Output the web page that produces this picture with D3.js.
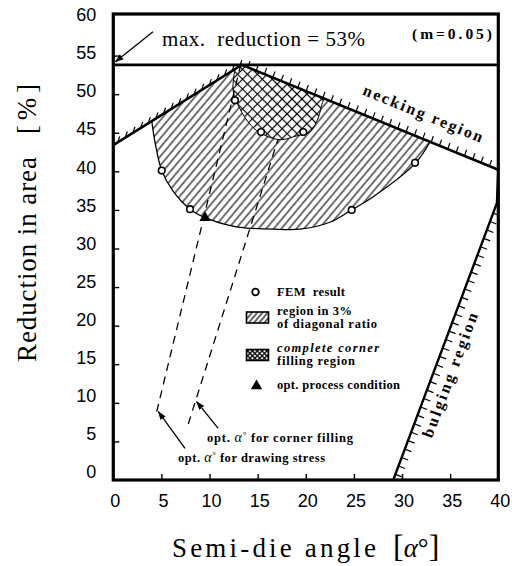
<!DOCTYPE html>
<html><head><meta charset="utf-8">
<script src="https://cdn.jsdelivr.net/npm/d3@7"></script>
<style>body{margin:0;background:#fff}svg{display:block}</style>
</head><body>
<svg id="chart" width="512" height="566"></svg>
<script>
// ---------- data ----------
const xTicks = [0, 5, 10, 15, 20, 25, 30, 35, 40];
const yTicks = [0, 5, 10, 15, 20, 25, 30, 35, 40, 45, 50, 55, 60];
const maxReduction = 53.8;
const neckingLine = [[0, 43.4], [13.34, 53.8], [40, 40.2]];
const bulgingLine = [[29.09, 0], [39.86, 35.9], [40, 40.2]];
const diagRegionArc = [[4.0, 46.5], [4.33, 43.8], [5.03, 40.1], [6.23, 37.4], [7.97, 35.1], [9.53, 34.0],
  [11.43, 33.2], [13.16, 32.75], [16.62, 32.5], [19.4, 32.5], [22.5, 33.4], [24.77, 35.0], [27.0, 36.7],
  [31.35, 41.0], [32.9, 43.8]];
const cornerRegionArc = [[12.64, 53.3], [12.44, 50.5], [12.82, 49.0], [14.0, 46.4], [15.24, 45.0],
  [17.33, 44.1], [19.05, 44.6], [20.44, 45.1], [21.28, 46.9], [21.68, 48.7], [21.9, 49.4]];
const femPoints = [[5.03, 40.1], [7.97, 35.1], [12.64, 49.2], [15.35, 45.1], [19.74, 45.1], [24.77, 35.0], [31.35, 41.1]];
const optPoints = [[9.53, 34.0]];
const optDrawingStress = [[4.51, 8.85], [13.16, 53.4]];
const optCornerFilling = [[7.79, 7.26], [17.1, 44.1]];
const arrowDrawing = [[7.45, 4.1], [4.68, 8.85]];
const arrowCorner = [[10.9, 6.7], [8.66, 10.15]];
const arrowMax = [[4.12, 58.1], [0.23, 54.2]];

// ---------- scales ----------
const svg = d3.select("#chart");
const x = d3.scaleLinear().domain([0, 40]).range([113.3, 498.3]);
const y = d3.scaleLinear().domain([0, 60]).range([480, 17]);
const yLabel = d3.scaleLinear().domain([0, 60]).range([471.7, 15]);
const P = d => [x(d[0]), y(d[1])];

// ---------- patterns ----------
const defs = svg.append("defs");
const hatch = defs.append("pattern").attr("id", "hatch").attr("patternUnits", "userSpaceOnUse")
  .attr("width", 5.8).attr("height", 10).attr("patternTransform", "rotate(40)");
hatch.append("line").attr("x1", 2.9).attr("x2", 2.9).attr("y1", 0).attr("y2", 10)
  .attr("stroke", "#000").attr("stroke-width", 1.1);
const cross = defs.append("pattern").attr("id", "cross").attr("patternUnits", "userSpaceOnUse")
  .attr("width", 7).attr("height", 7).attr("patternTransform", "rotate(45)");
cross.append("rect").attr("width", 7).attr("height", 7).attr("fill", "#fff");
cross.append("line").attr("x1", 3.5).attr("x2", 3.5).attr("y1", 0).attr("y2", 7).attr("stroke", "#000").attr("stroke-width", 1.2);
cross.append("line").attr("y1", 3.5).attr("y2", 3.5).attr("x1", 0).attr("x2", 7).attr("stroke", "#000").attr("stroke-width", 1.2);
const crossS = defs.append("pattern").attr("id", "crossS").attr("patternUnits", "userSpaceOnUse")
  .attr("width", 3.4).attr("height", 3.4).attr("patternTransform", "rotate(45)");
crossS.append("rect").attr("width", 3.4).attr("height", 3.4).attr("fill", "#fff");
crossS.append("line").attr("x1", 1.7).attr("x2", 1.7).attr("y1", 0).attr("y2", 3.4).attr("stroke", "#000").attr("stroke-width", 1.3);
crossS.append("line").attr("y1", 1.7).attr("y2", 1.7).attr("x1", 0).attr("x2", 3.4).attr("stroke", "#000").attr("stroke-width", 1.3);
const hatchS = defs.append("pattern").attr("id", "hatchS").attr("patternUnits", "userSpaceOnUse")
  .attr("width", 4).attr("height", 10).attr("patternTransform", "rotate(40)");
hatchS.append("line").attr("x1", 2).attr("x2", 2).attr("y1", 0).attr("y2", 10).attr("stroke", "#000").attr("stroke-width", 1.2);

defs.append("marker").attr("id", "arr").attr("viewBox", "0 0 10 10").attr("refX", 9).attr("refY", 5)
  .attr("markerWidth", 9).attr("markerHeight", 9).attr("markerUnits", "userSpaceOnUse").attr("orient", "auto")
  .append("path").attr("d", "M0,1.5 L10,5 L0,8.5 Z").attr("fill", "#000");

defs.append("clipPath").attr("id", "plotClip").append("rect")
  .attr("x", x(0)).attr("y", y(60) - 3).attr("width", x(40) - x(0)).attr("height", y(0) - y(60) + 3);

const plot = svg.append("g").attr("clip-path", "url(#plotClip)");

// ---------- regions ----------
const curve = d3.line().x(d => x(d[0])).y(d => y(d[1])).curve(d3.curveCatmullRom.alpha(0.5));
const peak = P(neckingLine[1]);
plot.append("path").attr("d", curve(diagRegionArc) + `L${peak[0]},${peak[1]}Z`)
  .attr("fill", "url(#hatch)").attr("stroke", "none");
plot.append("path").attr("d", curve(diagRegionArc)).attr("fill", "none").attr("stroke", "#000").attr("stroke-width", 1.3);
plot.append("path").attr("d", curve(cornerRegionArc) + `L${peak[0]},${peak[1]}Z`)
  .attr("fill", "url(#cross)").attr("stroke", "none");
plot.append("path").attr("d", curve(cornerRegionArc)).attr("fill", "none").attr("stroke", "#000").attr("stroke-width", 1);

// ---------- dashed optimal lines ----------
const straight = d3.line().x(d => x(d[0])).y(d => y(d[1]));
[optDrawingStress, optCornerFilling].forEach(l => {
  plot.append("path").attr("d", straight(l)).attr("fill", "none").attr("stroke", "#000")
    .attr("stroke-width", 1.3).attr("stroke-dasharray", "8,6");
});

// ---------- boundary lines with hatch ticks ----------
function alongTicks(pts, spacing, offset, len, dir, xmax) {
  const segs = []; let acc = 0, next = offset;
  for (let i = 0; i < pts.length - 1; i++) {
    const [x0, y0] = pts[i], [x1, y1] = pts[i + 1];
    const L = Math.hypot(x1 - x0, y1 - y0);
    while (next <= acc + L) {
      const t = (next - acc) / L;
      const px = x0 + t * (x1 - x0), py = y0 + t * (y1 - y0);
      if (px < xmax) segs.push([px, py, px + dir[0] * len, py + dir[1] * len]);
      next += spacing;
    }
    acc += L;
  }
  return segs;
}
const neckPx = neckingLine.map(P);
const a1 = 70 * Math.PI / 180;
plot.selectAll(".nt").data(alongTicks(neckPx, 9, 5, 6.5, [Math.cos(a1), -Math.sin(a1)], x(40) - 4)).join("line")
  .attr("x1", d => d[0]).attr("y1", d => d[1]).attr("x2", d => d[2]).attr("y2", d => d[3])
  .attr("stroke", "#000").attr("stroke-width", 1.2);
plot.append("path").attr("d", straight(neckingLine)).attr("fill", "none").attr("stroke", "#000").attr("stroke-width", 2.6);

const bulgPx = bulgingLine.map(P);
plot.selectAll(".bt").data(alongTicks(bulgPx, 9, 6, 7, [0.93, 0.36], x(40) - 4)).join("line")
  .attr("x1", d => d[0]).attr("y1", d => d[1]).attr("x2", d => d[2]).attr("y2", d => d[3])
  .attr("stroke", "#000").attr("stroke-width", 1.2);
plot.append("path").attr("d", straight(bulgingLine)).attr("fill", "none").attr("stroke", "#000").attr("stroke-width", 2.4);

// max reduction line
svg.append("line").attr("x1", x(0)).attr("x2", x(40)).attr("y1", y(maxReduction)).attr("y2", y(maxReduction))
  .attr("stroke", "#000").attr("stroke-width", 2.6);

// ---------- points ----------
plot.selectAll(".fem").data(femPoints).join("circle")
  .attr("cx", d => x(d[0])).attr("cy", d => y(d[1])).attr("r", 3.3)
  .attr("fill", "#fff").attr("stroke", "#000").attr("stroke-width", 1.6);
const tri = d3.symbol().type(d3.symbolTriangle).size(55);
plot.selectAll(".opt").data(optPoints).join("path")
  .attr("transform", d => `translate(${x(d[0])},${y(d[1])})`).attr("d", tri()).attr("fill", "#000");

// ---------- arrows ----------
[arrowDrawing, arrowCorner, arrowMax].forEach(a => {
  svg.append("path").attr("d", straight(a)).attr("fill", "none").attr("stroke", "#000")
    .attr("stroke-width", 1.3).attr("marker-end", "url(#arr)");
});

// ---------- frame & axes ----------
svg.append("rect").attr("x", x(0)).attr("y", y(60) - 3).attr("width", x(40) - x(0)).attr("height", y(0) - y(60) + 3)
  .attr("fill", "none").attr("stroke", "#000").attr("stroke-width", 3.2);

const xAxis = svg.append("g").attr("transform", `translate(0,${y(0)})`)
  .call(d3.axisBottom(x).tickValues(xTicks).tickSize(-6).tickPadding(14));
xAxis.select(".domain").remove();
xAxis.selectAll(".tick line").attr("stroke-width", 1.4).filter(d => d === 0 || d === 40).remove();
xAxis.selectAll("text").attr("font-family", "'Liberation Sans', Arial, sans-serif").attr("font-size", 18)
  .attr("fill", "#000").attr("dx", 1.5);

const yAxis = svg.append("g").attr("transform", `translate(${x(0)},0)`)
  .call(d3.axisLeft(y).tickValues(yTicks).tickSize(-6).tickPadding(17));
yAxis.select(".domain").remove();
yAxis.selectAll(".tick line").attr("stroke-width", 1.4).filter(d => d === 0 || d === 60).remove();
yAxis.selectAll("text").attr("font-family", "'Liberation Sans', Arial, sans-serif").attr("font-size", 18)
  .attr("fill", "#000").attr("y", d => yLabel(d) - y(d));

// ---------- titles ----------
const serif = "'Liberation Serif', 'Times New Roman', serif";
svg.append("text").attr("x", 172).attr("y", 557).attr("font-family", serif).attr("font-size", 27)
  .attr("textLength", 204).attr("lengthAdjust", "spacing").text("Semi-die angle");
const xt2 = svg.append("text").attr("x", 393).attr("y", 557).attr("font-family", serif).attr("font-size", 27);
xt2.append("tspan").attr("font-size", 32).attr("font-weight", 300).text("[");
xt2.append("tspan").attr("font-style", "italic").text("α");
xt2.append("tspan").text("°");
xt2.append("tspan").attr("font-size", 32).attr("font-weight", 300).text("]");

svg.append("text").attr("transform", "translate(36,362) rotate(-90)").attr("font-family", serif).attr("font-size", 27)
  .attr("textLength", 205).attr("lengthAdjust", "spacing").text("Reduction in area");
svg.append("text").attr("transform", "translate(36,134) rotate(-90)").attr("font-family", serif).attr("font-size", 27)
  .attr("textLength", 50).attr("lengthAdjust", "spacing").text("[%]");

// ---------- annotations ----------
svg.append("text").attr("x", 162).attr("y", 46).attr("font-family", serif).attr("font-size", 21)
  .attr("textLength", 203).attr("lengthAdjust", "spacing").style("white-space", "pre").text("max.  reduction = 53%");
svg.append("text").attr("x", 412).attr("y", 39).attr("font-family", serif).attr("font-size", 15.5).attr("font-weight", "bold")
  .attr("textLength", 80).attr("lengthAdjust", "spacing").text("(m=0.05)");

const nAng = Math.atan2(peak[1] - neckPx[2][1], peak[0] - neckPx[2][0]) * 180 / Math.PI + 180;
svg.append("text").attr("transform", `translate(421,118.5) rotate(${nAng})`).attr("text-anchor", "middle")
  .attr("font-family", serif).attr("font-size", 16).attr("font-weight", "bold")
  .attr("textLength", 128).attr("lengthAdjust", "spacing").text("necking region");
const bAng = Math.atan2(bulgPx[1][1] - bulgPx[0][1], bulgPx[1][0] - bulgPx[0][0]) * 180 / Math.PI;
svg.append("text").attr("transform", `translate(455,377) rotate(${bAng})`).attr("text-anchor", "middle")
  .attr("font-family", serif).attr("font-size", 16).attr("font-weight", "bold")
  .attr("textLength", 132).attr("lengthAdjust", "spacing").text("bulging region");

function annot(xp, yp, len, rest) {
  const t = svg.append("text").attr("x", xp).attr("y", yp).attr("font-family", serif).attr("font-size", 12.5)
    .attr("font-weight", "bold").attr("textLength", len).attr("lengthAdjust", "spacing");
  t.append("tspan").text("opt. ");
  t.append("tspan").attr("font-style", "italic").attr("font-weight", "normal").attr("font-size", 14).text("α");
  t.append("tspan").attr("font-size", 9).attr("dy", -4).text("°");
  t.append("tspan").attr("dy", 4).text(rest);
}
annot(207, 442, 146, " for corner  filling");
annot(178, 462, 147, " for drawing stress");

// ---------- legend ----------
const lg = svg.append("g").attr("font-family", serif).attr("font-size", 12.5).attr("font-weight", "bold");
lg.append("circle").attr("cx", 255.5).attr("cy", 292).attr("r", 3.3).attr("fill", "#fff").attr("stroke", "#000").attr("stroke-width", 1.8);
lg.append("rect").attr("x", 246.5).attr("y", 312).attr("width", 22).attr("height", 11).attr("fill", "url(#hatchS)")
  .attr("stroke", "#000").attr("stroke-width", 1.6);
lg.append("rect").attr("x", 246.5).attr("y", 349.5).attr("width", 22).attr("height", 11).attr("fill", "url(#crossS)")
  .attr("stroke", "#000").attr("stroke-width", 1.6);
lg.append("path").attr("transform", "translate(256.5,386)").attr("d", tri()).attr("fill", "#000");
const legendRows = [
  ["FEM  result", 296, 68, false],
  ["region in 3%", 315, 75, false],
  ["of diagonal ratio", 328, 100, false],
  ["complete corner", 352, 102, true],
  ["filling region", 365, 78, false],
  ["opt. process condition", 389, 123, false]
];
lg.selectAll(".lt").data(legendRows).join("text")
  .attr("x", 277).attr("y", d => d[1]).attr("textLength", d => d[2]).attr("lengthAdjust", "spacing")
  .attr("font-style", d => d[3] ? "italic" : "normal").style("white-space", "pre").text(d => d[0]);
</script>
</body></html>
